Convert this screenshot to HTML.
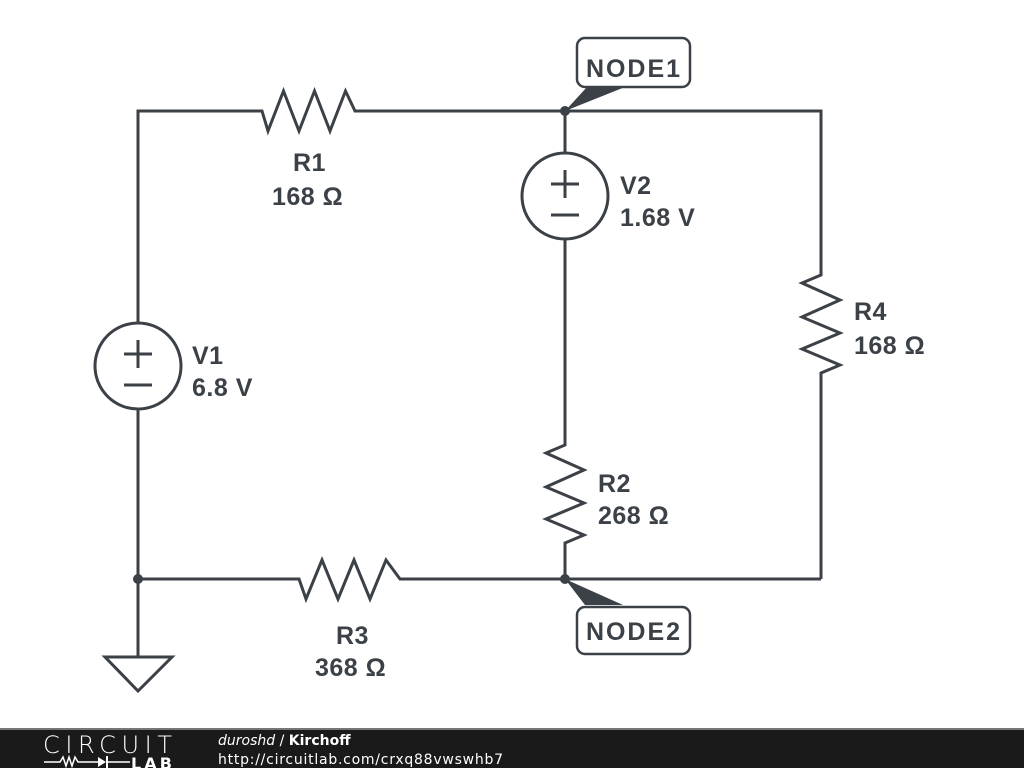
<!DOCTYPE html>
<html><head><meta charset="utf-8"><style>
body{margin:0;width:1024px;height:768px;background:#fff;overflow:hidden;position:relative;font-family:"Liberation Sans",sans-serif}
svg{position:absolute;left:0;top:0}
</style></head><body>
<svg width="1024" height="768" viewBox="0 0 1024 768">
<g stroke="#3b4147" stroke-width="3" fill="none" stroke-linejoin="miter">
<polyline points="138,323 138,111 262,111 268,131 283.5,91 299,131 314.5,91 330,131 345.5,91 355,111 821,111 821,275 802,283 840,300 802,317 840,333 802,349 840,365 821,373 821,579"/>
<circle cx="138" cy="366" r="43"/>
<line x1="138" y1="409" x2="138" y2="657"/>
<line x1="124" y1="354" x2="152" y2="354"/><line x1="138" y1="340" x2="138" y2="368"/>
<line x1="124" y1="385" x2="152" y2="385"/>
<polygon points="105,657 172,657 138,691"/>
<polyline points="138,579 299,579 306,599 322,560 338,599 354,560 370,599 386,560 400,579 821,579"/>
<line x1="565" y1="111" x2="565" y2="153"/>
<circle cx="565" cy="196" r="43"/>
<line x1="551" y1="184" x2="579" y2="184"/><line x1="565" y1="170" x2="565" y2="198"/>
<line x1="551" y1="215" x2="579" y2="215"/>
<polyline points="565,239 565,445 546,453 584,470 546,487 584,503 546,519 584,535 565,543 565,579"/>
<rect x="577" y="38" width="113" height="49" rx="8" stroke-width="2.5"/>
<rect x="577" y="607" width="113" height="47" rx="8" stroke-width="2.5"/>
</g>
<g fill="#3b4147">
<circle cx="565" cy="111" r="5"/><circle cx="565" cy="579" r="5"/><circle cx="138" cy="579" r="5"/>
<polygon points="565,111 587,87 625,87"/>
<polygon points="565,579 585,605 623,605"/>
</g>
<g fill="#3b4147" font-family="Liberation Sans, sans-serif" font-weight="bold" font-size="25" letter-spacing="0.5">
<text x="293" y="171">R1</text><text x="272" y="205">168 Ω</text>
<text x="192" y="364">V1</text><text x="192" y="396">6.8 V</text>
<text x="620" y="194">V2</text><text x="620" y="226">1.68 V</text>
<text x="854" y="320">R4</text><text x="854" y="354">168 Ω</text>
<text x="598" y="492">R2</text><text x="598" y="524">268 Ω</text>
<text x="336" y="644">R3</text><text x="315" y="676">368 Ω</text>
<text x="586" y="77" font-size="25" letter-spacing="0" textLength="94">NODE1</text>
<text x="586" y="640" font-size="25" letter-spacing="0" textLength="94">NODE2</text>
</g>
<rect x="0" y="729" width="1024" height="39" fill="#1a1a1a"/>
<rect x="0" y="728" width="1024" height="2" fill="#777"/>
<text x="43" y="753" fill="#fff" font-family="DejaVu Sans, sans-serif" font-weight="200" font-size="24" letter-spacing="1" textLength="130">CIRCUIT</text>
<polyline points="44,762 60,762 63,757 66,766 69,757 72,766 75,757 78,762 98,762" stroke="#fff" stroke-width="1.5" fill="none"/>
<polygon points="98,757 98,767 106,762" fill="#fff"/><line x1="107" y1="756" x2="107" y2="768" stroke="#fff" stroke-width="2"/>
<line x1="107" y1="762" x2="130" y2="762" stroke="#fff" stroke-width="1.5"/>
<text x="131" y="769" fill="#fff" font-family="DejaVu Sans, sans-serif" font-weight="bold" font-size="16" textLength="41">LAB</text>
<text x="218" y="745" fill="#fff" font-family="DejaVu Sans, sans-serif" font-size="14"><tspan font-style="italic">duroshd</tspan> / <tspan font-weight="bold">Kirchoff</tspan></text>
<text x="218" y="764" fill="#fff" font-family="DejaVu Sans, sans-serif" font-size="14" textLength="285">http://circuitlab.com/crxq88vwswhb7</text>
</svg>
</body></html>
